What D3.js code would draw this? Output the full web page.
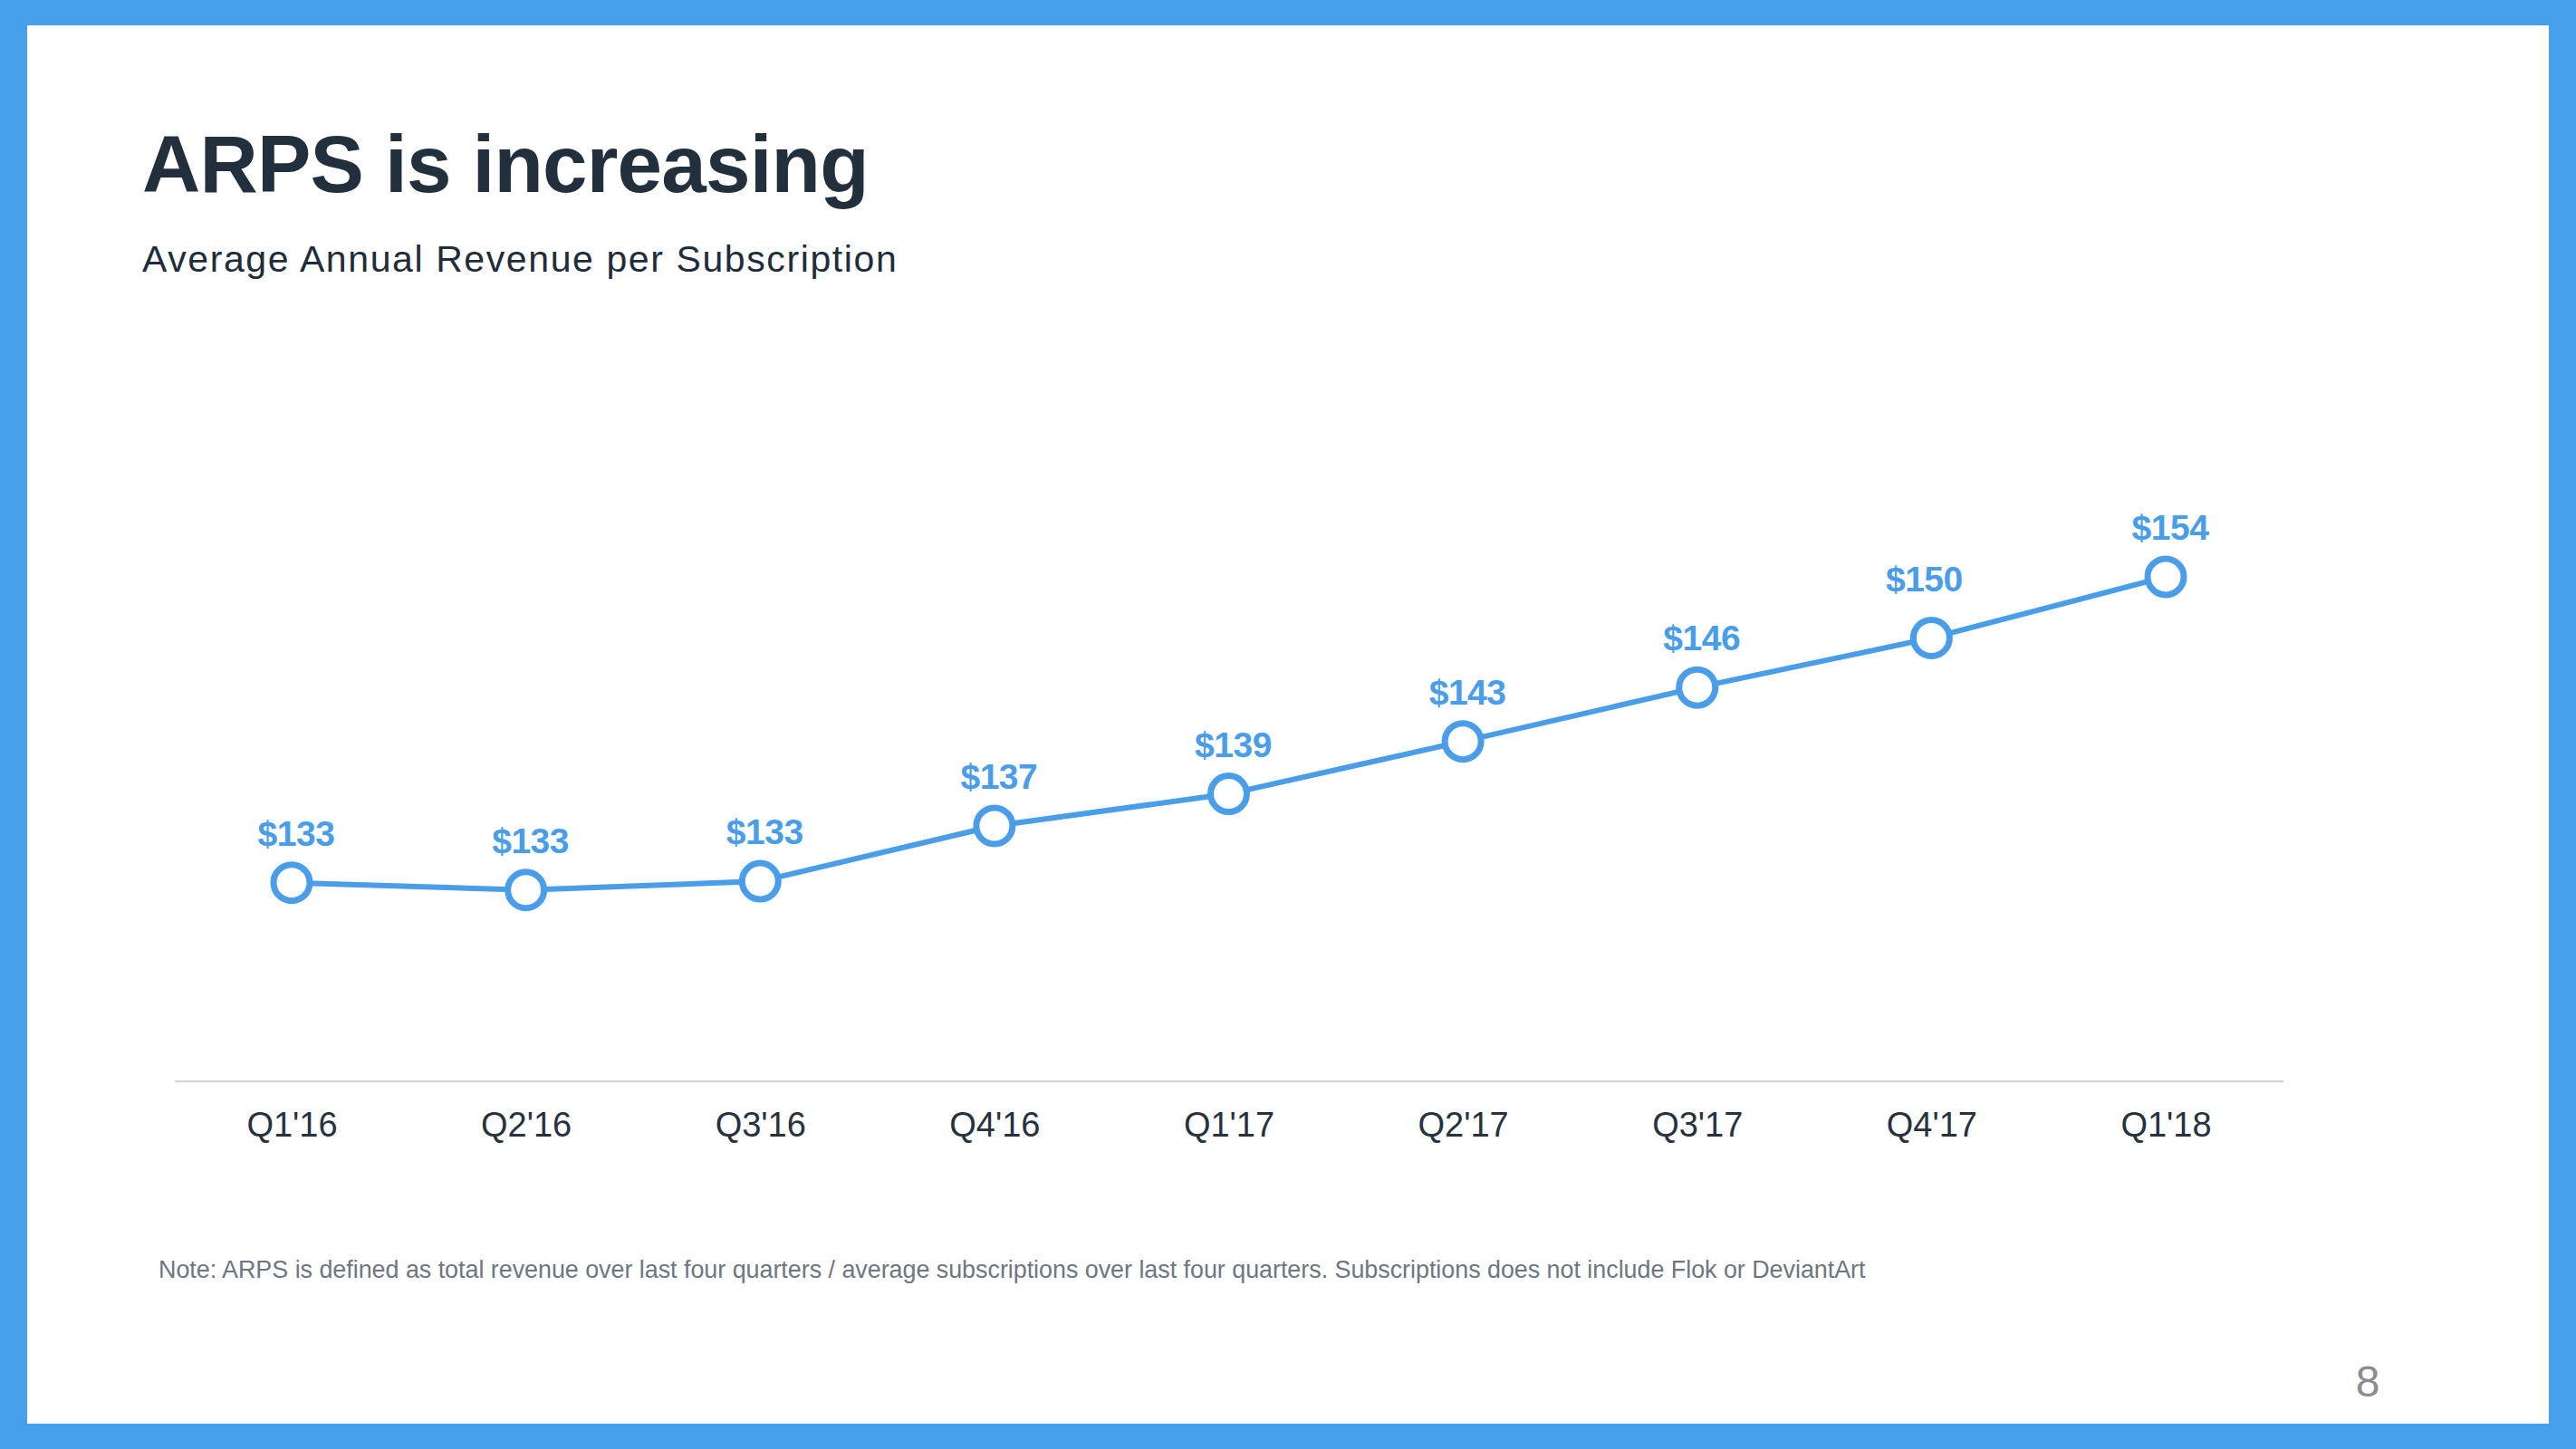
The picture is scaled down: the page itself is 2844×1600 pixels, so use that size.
<!DOCTYPE html>
<html>
<head>
<meta charset="utf-8">
<script src="https://cdn.jsdelivr.net/npm/d3@7"></script>
<style>
  html, body { margin: 0; padding: 0; background: #469fea; }
  svg { display: block; }
</style>
</head>
<body>
<svg id="chart" width="2844" height="1600"></svg>
<script>
// ---- data ----
const categories = ["Q1'16", "Q2'16", "Q3'16", "Q4'16", "Q1'17", "Q2'17", "Q3'17", "Q4'17", "Q1'18"];
const arps = [133.1, 132.6, 133.2, 137.0, 139.2, 142.8, 146.5, 149.9, 154.1];
const valueLabels = ["$133", "$133", "$133", "$137", "$139", "$143", "$146", "$150", "$154"];
const titleText = "ARPS is increasing";
const subtitleText = "Average Annual Revenue per Subscription";
const noteText = "Note: ARPS is defined as total revenue over last four quarters / average subscriptions over last four quarters. Subscriptions does not include Flok or DeviantArt";
const pageNumber = "8";

// ---- layout ----
const W = 2844, H = 1600;
const blue = "#469fea";
const lineBlue = "#4a9ee9";
const svg = d3.select("#chart");

svg.append("rect").attr("x", 0).attr("y", 0).attr("width", W).attr("height", H).attr("fill", blue);
svg.append("rect").attr("x", 30).attr("y", 28).attr("width", 2784).attr("height", 1544).attr("fill", "#ffffff");

svg.append("text")
  .attr("x", 157).attr("y", 212)
  .attr("font-family", "'Liberation Sans', Arial, sans-serif")
  .attr("font-weight", 700).attr("font-size", 89)
  .attr("letter-spacing", -0.8)
  .attr("fill", "#22303e")
  .text(titleText);

svg.append("text")
  .attr("x", 157).attr("y", 300)
  .attr("font-family", "'Liberation Sans', Arial, sans-serif")
  .attr("font-weight", 300).attr("font-size", 41)
  .attr("letter-spacing", 1.6)
  .attr("fill", "#1f2d3b")
  .text(subtitleText);

const x = d3.scalePoint().domain(categories).range([322, 2391]);
const y = d3.scaleLinear().domain([125, 160]).range([1105, 542]);

const axisG = svg.append("g").attr("transform", "translate(0,1194)");
axisG.append("line")
  .attr("x1", 193).attr("x2", 2521)
  .attr("stroke", "#d6d6d6").attr("stroke-width", 2.5);
const xAxis = d3.axisBottom(x).tickSize(0).tickPadding(61);
const ax = svg.append("g").attr("transform", "translate(0,1194)").call(xAxis);
ax.select(".domain").remove();
ax.selectAll("text")
  .attr("font-family", "'Liberation Sans', Arial, sans-serif")
  .attr("font-size", 38)
  .attr("fill", "#27323e")
  .attr("dy", 0);

const line = d3.line().x((d, i) => x(categories[i])).y(d => y(d));
svg.append("path")
  .datum(arps)
  .attr("d", line)
  .attr("fill", "none")
  .attr("stroke", lineBlue)
  .attr("stroke-width", 6)
  .attr("stroke-linejoin", "round");

svg.selectAll("circle.pt")
  .data(arps)
  .enter().append("circle")
  .attr("class", "pt")
  .attr("cx", (d, i) => x(categories[i]))
  .attr("cy", d => y(d))
  .attr("r", 20)
  .attr("fill", "#ffffff")
  .attr("stroke", lineBlue)
  .attr("stroke-width", 7);

// label placement: default offset, with the Q4'17 label sitting a little higher and left
const labelDx = (i) => categories[i] === "Q4'17" ? -8 : 5;
const labelDy = (i) => categories[i] === "Q4'17" ? -51 : -41;

svg.selectAll("text.val")
  .data(arps)
  .enter().append("text")
  .attr("class", "val")
  .attr("x", (d, i) => x(categories[i]) + labelDx(i))
  .attr("y", (d, i) => y(d) + labelDy(i))
  .attr("text-anchor", "middle")
  .attr("font-family", "'Liberation Sans', Arial, sans-serif")
  .attr("font-weight", 700)
  .attr("font-size", 39)
  .attr("letter-spacing", -0.5)
  .attr("fill", lineBlue)
  .text((d, i) => valueLabels[i]);

svg.append("text")
  .attr("x", 175).attr("y", 1411)
  .attr("font-family", "'Liberation Sans', Arial, sans-serif")
  .attr("font-size", 26.9)
  .attr("letter-spacing", -0.03)
  .attr("fill", "#6e7680")
  .text(noteText);

svg.append("text")
  .attr("x", 2614).attr("y", 1542)
  .attr("text-anchor", "middle")
  .attr("font-family", "'Liberation Sans', Arial, sans-serif")
  .attr("font-size", 48)
  .attr("fill", "#8c8c8c")
  .text(pageNumber);
</script>
</body>
</html>
